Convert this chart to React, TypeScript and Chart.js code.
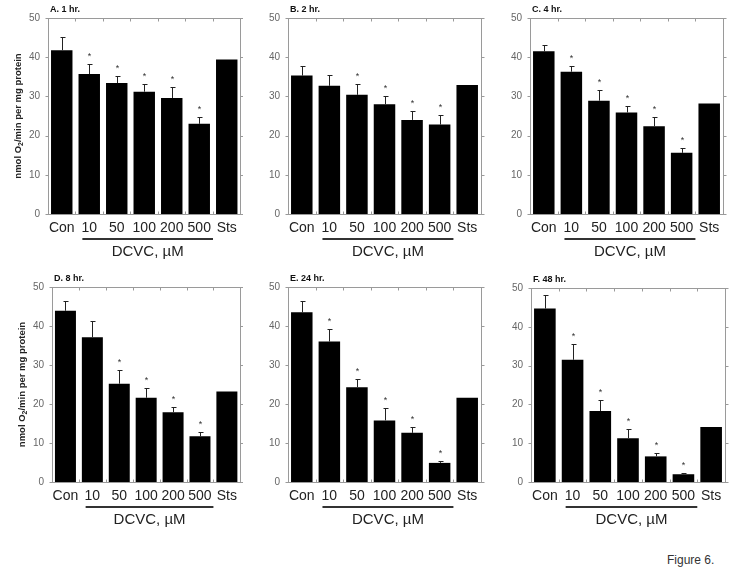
import React, { useEffect, useRef } from "react";
import { Chart, registerables } from "chart.js";

Chart.register(...registerables);

// ---------- data ----------
const categories = ["Con", "10", "50", "100", "200", "500", "Sts"];
const yTickValues = [0, 10, 20, 30, 40, 50];

const valuesA = [41.8, 35.7, 33.4, 31.2, 29.6, 23.0, 39.4];
const semA = [3.3, 2.5, 1.7, 2.0, 2.7, 1.7, null];
const sigA = [false, true, true, true, true, true, false];

const valuesB = [35.3, 32.7, 30.4, 28.0, 24.0, 22.8, 32.9];
const semB = [2.5, 2.8, 2.8, 2.0, 2.4, 2.5, null];
const sigB = [false, false, true, true, true, true, false];

const valuesC = [41.5, 36.3, 28.9, 25.9, 22.4, 15.6, 28.2];
const semC = [1.6, 1.5, 2.8, 1.7, 2.3, 1.2, null];
const sigC = [false, true, true, true, true, true, false];

const valuesD = [43.9, 37.1, 25.2, 21.6, 17.9, 11.7, 23.2];
const semD = [2.4, 4.1, 3.6, 2.5, 1.4, 1.1, null];
const sigD = [false, false, true, true, true, true, false];

const valuesE = [43.5, 36.0, 24.3, 15.8, 12.6, 4.9, 21.6];
const semE = [3.0, 3.2, 2.1, 3.3, 1.4, 0.6, null];
const sigE = [false, true, true, true, true, true, false];

const valuesF = [44.7, 31.5, 18.3, 11.3, 6.6, 2.0, 14.2];
const semF = [3.4, 4.1, 2.9, 2.4, 1.0, 0.2, null];
const sigF = [false, true, true, true, true, true, false];

const titles = ["A. 1 hr.", "B. 2 hr.", "C. 4 hr.", "D. 8 hr.", "E. 24 hr.", "F. 48 hr."];
const yTitleMain = "nmol O";
const yTitleSub = "2";
const yTitleRest = "/min per mg protein";
const groupLabel = "DCVC, µM";
const figureLabel = "Figure 6.";

// ---------- layout ----------
const CW = 243;
const CH = 270;
type Layout = { cx: number; cy: number; l: number; r: number; t: number; b: number; yTitle: boolean };
const layouts: Layout[] = [
  { cx: 0, cy: 0, l: 48, r: 241, t: 18, b: 214, yTitle: true },
  { cx: 243, cy: 0, l: 288, r: 481, t: 18, b: 214, yTitle: false },
  { cx: 486, cy: 0, l: 530, r: 723, t: 18, b: 214, yTitle: false },
  { cx: 0, cy: 270, l: 52, r: 247, t: 287, b: 482, yTitle: true },
  { cx: 243, cy: 270, l: 288, r: 481, t: 287, b: 482, yTitle: false },
  { cx: 486, cy: 270, l: 531, r: 725, t: 288, b: 482, yTitle: false },
];

const panelData = [
  { values: valuesA, sem: semA, sig: sigA },
  { values: valuesB, sem: semB, sig: sigB },
  { values: valuesC, sem: semC, sig: sigC },
  { values: valuesD, sem: semD, sig: sigD },
  { values: valuesE, sem: semE, sig: sigE },
  { values: valuesF, sem: semF, sig: sigF },
];

const FONT = "'Liberation Sans', Arial, sans-serif";

function Panel({ idx }: { idx: number }) {
  const ref = useRef<HTMLCanvasElement | null>(null);
  const lay = layouts[idx];
  const d = panelData[idx];
  const title = titles[idx];

  useEffect(() => {
    if (!ref.current) return;
    const yAxisWidth = lay.l - lay.cx;
    const xAxisHeight = lay.cy + CH - lay.b;
    const padTop = lay.t - lay.cy;
    const padRight = lay.cx + CW - lay.r;

    const decor = {
      id: "decor" + idx,
      afterDatasetsDraw(chart: any) {
        const { ctx, chartArea: a } = chart;
        const x = chart.scales.x;
        const y = chart.scales.y;
        const line = (x1: number, y1: number, x2: number, y2: number) => {
          ctx.beginPath();
          ctx.moveTo(x1, y1);
          ctx.lineTo(x2, y2);
          ctx.stroke();
        };
        ctx.save();
        // frame
        ctx.strokeStyle = "#9a9a9a";
        ctx.lineWidth = 1;
        const L = Math.round(a.left) + 0.5;
        const R = Math.round(a.right) + 0.5;
        const T = Math.round(a.top) + 0.5;
        const B = Math.round(a.bottom) + 0.5;
        ctx.strokeRect(L, T, R - L, B - T);
        // y ticks
        yTickValues.forEach((v) => {
          const py = Math.round(y.getPixelForValue(v)) + 0.5;
          line(L - 3, py, L, py);
          line(R, py, R + 3, py);
        });
        // category boundary ticks
        for (let i = 0; i < categories.length - 1; i++) {
          const px = Math.round(x.getPixelForValue(i + 0.5)) + 0.5;
          line(px, T, px, T + 3);
          line(px, B - 3, px, B);
        }
        // error bars & stars
        const meta = chart.getDatasetMeta(0);
        ctx.strokeStyle = "#222";
        ctx.fillStyle = "#333";
        d.values.forEach((v, i) => {
          const s = d.sem[i];
          if (s == null) return;
          const bx = Math.round(meta.data[i].x) + 0.5;
          const top = Math.round(y.getPixelForValue(v + s)) + 0.5;
          const base = y.getPixelForValue(v);
          line(bx, base, bx, top);
          line(bx - 2, top, bx + 3, top);
          if (d.sig[i]) {
            ctx.font = `9px ${FONT}`;
            ctx.textAlign = "center";
            ctx.textBaseline = "middle";
            ctx.fillText("*", bx, top - 8);
          }
        });
        // group underline
        const gx1 = x.getPixelForValue(0.75);
        const gx2 = x.getPixelForValue(5.5);
        ctx.strokeStyle = "#333";
        ctx.lineWidth = 2;
        line(gx1, a.bottom + 25, gx2, a.bottom + 25);
        ctx.fillStyle = "#222";
        ctx.font = `15px ${FONT}`;
        ctx.textAlign = "center";
        ctx.textBaseline = "middle";
        ctx.fillText(groupLabel, (gx1 + gx2) / 2, a.bottom + 38);
        // panel title
        ctx.font = `bold 9px ${FONT}`;
        ctx.textAlign = "left";
        ctx.fillStyle = "#111";
        ctx.fillText(title, a.left + 2, a.top - 8);
        // y title
        if (lay.yTitle) {
          ctx.save();
          ctx.translate(a.left - 30, (a.top + a.bottom) / 2);
          ctx.rotate(-Math.PI / 2);
          ctx.font = `bold 9.5px ${FONT}`;
          const w1 = ctx.measureText(yTitleMain).width;
          const w3 = ctx.measureText(yTitleRest).width;
          ctx.font = `bold 7px ${FONT}`;
          const w2 = ctx.measureText(yTitleSub).width;
          const total = w1 + w2 + w3;
          let sx = -total / 2;
          ctx.textAlign = "left";
          ctx.textBaseline = "middle";
          ctx.fillStyle = "#222";
          ctx.font = `bold 9.5px ${FONT}`;
          ctx.fillText(yTitleMain, sx, 0);
          sx += w1;
          ctx.font = `bold 7px ${FONT}`;
          ctx.fillText(yTitleSub, sx, 3);
          sx += w2;
          ctx.font = `bold 9.5px ${FONT}`;
          ctx.fillText(yTitleRest, sx, 0);
          ctx.restore();
        }
        ctx.restore();
      },
    };

    const chart = new Chart(ref.current, {
      type: "bar",
      data: {
        labels: categories,
        datasets: [
          {
            data: d.values,
            backgroundColor: "#000",
            borderWidth: 0,
            categoryPercentage: 1,
            barPercentage: 0.78,
          },
        ],
      },
      options: {
        responsive: false,
        animation: false,
        events: [],
        layout: { padding: { left: 0, top: padTop, right: padRight, bottom: 0 } },
        plugins: { legend: { display: false }, tooltip: { enabled: false } },
        scales: {
          x: {
            type: "category",
            offset: true,
            grid: { display: false, drawTicks: false },
            border: { display: false },
            ticks: {
              color: "#222",
              font: { family: FONT, size: 14 },
              padding: 6,
              maxRotation: 0,
              autoSkip: false,
            },
            afterFit: (s: any) => {
              s.height = xAxisHeight;
            },
          },
          y: {
            min: 0,
            max: 50,
            grid: { display: false, drawTicks: false },
            border: { display: false },
            ticks: {
              stepSize: 10,
              color: "#666",
              font: { family: FONT, size: 10 },
              padding: 8,
            },
            afterFit: (s: any) => {
              s.width = yAxisWidth;
            },
          },
        },
      },
      plugins: [decor],
    } as any);
    return () => chart.destroy();
  }, [idx]);

  return (
    <canvas
      ref={ref}
      width={CW}
      height={CH}
      style={{ position: "absolute", left: lay.cx, top: lay.cy, width: CW, height: CH }}
    />
  );
}

export default function App() {
  return (
    <div
      style={{
        position: "absolute",
        left: 0,
        top: 0,
        width: 729,
        height: 568,
        background: "#fff",
        overflow: "hidden",
      }}
    >
      {layouts.map((_, i) => (
        <Panel key={i} idx={i} />
      ))}
      <div
        style={{
          position: "absolute",
          left: 667,
          top: 553,
          fontFamily: FONT,
          fontSize: 12,
          lineHeight: "14px",
          color: "#333",
        }}
      >
        {figureLabel}
      </div>
    </div>
  );
}
